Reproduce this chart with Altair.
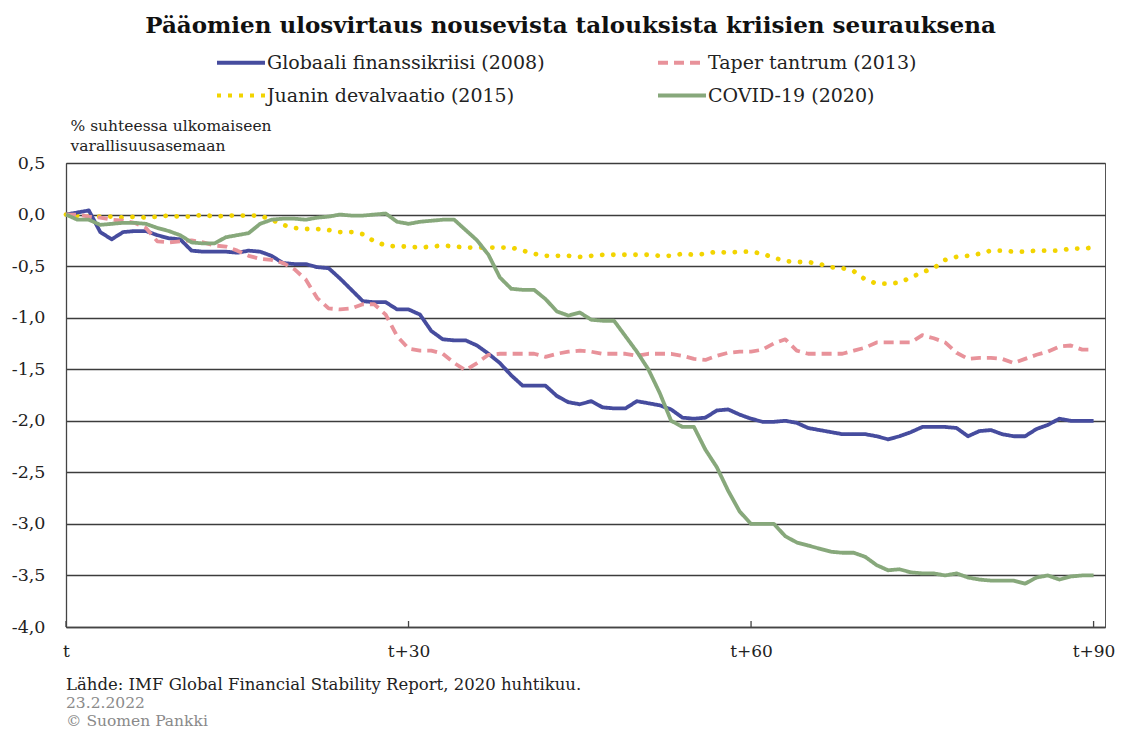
import altair as alt
import pandas as pd

days = list(range(91))
series = [
    "Globaali finanssikriisi (2008)",
    "Taper tantrum (2013)",
    "Juanin devalvaatio (2015)",
    "COVID-19 (2020)",
]
gfc = [0.00, 0.02, 0.04, -0.17, -0.24, -0.17, -0.16, -0.16, -0.20, -0.23,
       -0.24, -0.35, -0.36, -0.36, -0.36, -0.37, -0.35, -0.36, -0.40, -0.47,
       -0.48, -0.48, -0.51, -0.52, -0.62, -0.73, -0.84, -0.85, -0.85, -0.92,
       -0.92, -0.97, -1.13, -1.21, -1.22, -1.22, -1.27, -1.35, -1.44, -1.56,
       -1.66, -1.66, -1.66, -1.76, -1.82, -1.84, -1.81, -1.87, -1.88, -1.88,
       -1.81, -1.83, -1.85, -1.89, -1.97, -1.98, -1.97, -1.90, -1.89, -1.94,
       -1.98, -2.01, -2.01, -2.00, -2.02, -2.07, -2.09, -2.11, -2.13, -2.13,
       -2.13, -2.15, -2.18, -2.15, -2.11, -2.06, -2.06, -2.06, -2.07, -2.15,
       -2.10, -2.09, -2.13, -2.15, -2.15, -2.08, -2.04, -1.98, -2.00, -2.00,
       -2.00]
taper = [0.00, 0.00, -0.02, -0.03, -0.05, -0.06, -0.08, -0.13, -0.26, -0.27,
         -0.26, -0.25, -0.27, -0.30, -0.31, -0.35, -0.40, -0.43, -0.44, -0.47,
         -0.53, -0.63, -0.81, -0.91, -0.92, -0.91, -0.87, -0.87, -0.97, -1.18,
         -1.30, -1.32, -1.32, -1.35, -1.44, -1.51, -1.44, -1.36, -1.35, -1.35,
         -1.35, -1.35, -1.38, -1.35, -1.33, -1.32, -1.33, -1.35, -1.35, -1.35,
         -1.37, -1.35, -1.35, -1.35, -1.37, -1.40, -1.41, -1.37, -1.34, -1.33,
         -1.33, -1.31, -1.25, -1.21, -1.32, -1.35, -1.35, -1.35, -1.35, -1.32,
         -1.29, -1.24, -1.24, -1.24, -1.24, -1.17, -1.20, -1.24, -1.34, -1.40,
         -1.39, -1.39, -1.40, -1.44, -1.40, -1.36, -1.33, -1.28, -1.27, -1.31,
         -1.31]
juan = [0.00, -0.01, -0.02, -0.02, -0.02, -0.03, -0.02, -0.03, -0.02, -0.01,
        -0.02, -0.02, 0.00, -0.02, -0.01, -0.01, -0.01, -0.01, -0.05, -0.10,
        -0.13, -0.14, -0.14, -0.15, -0.17, -0.17, -0.19, -0.26, -0.30, -0.31,
        -0.31, -0.32, -0.31, -0.30, -0.31, -0.32, -0.32, -0.32, -0.32, -0.32,
        -0.35, -0.38, -0.40, -0.40, -0.40, -0.41, -0.40, -0.39, -0.39, -0.39,
        -0.39, -0.39, -0.40, -0.40, -0.38, -0.39, -0.38, -0.36, -0.37, -0.36,
        -0.36, -0.38, -0.42, -0.45, -0.46, -0.46, -0.48, -0.51, -0.52, -0.55,
        -0.63, -0.67, -0.67, -0.66, -0.61, -0.56, -0.52, -0.44, -0.41, -0.40,
        -0.38, -0.35, -0.35, -0.36, -0.36, -0.35, -0.35, -0.35, -0.33, -0.33,
        -0.32]
covid = [0.00, -0.05, -0.05, -0.10, -0.09, -0.08, -0.08, -0.09, -0.13, -0.16,
         -0.20, -0.27, -0.28, -0.28, -0.22, -0.20, -0.18, -0.09, -0.05, -0.04,
         -0.04, -0.05, -0.03, -0.02, 0.00, -0.01, -0.01, 0.00, 0.01, -0.07,
         -0.09, -0.07, -0.06, -0.05, -0.05, -0.15, -0.25, -0.39, -0.61, -0.72,
         -0.73, -0.73, -0.82, -0.94, -0.98, -0.95, -1.02, -1.03, -1.03, -1.18,
         -1.33, -1.50, -1.73, -2.00, -2.06, -2.06, -2.28, -2.45, -2.68, -2.88,
         -3.00, -3.00, -3.00, -3.12, -3.18, -3.21, -3.24, -3.27, -3.28, -3.28,
         -3.32, -3.40, -3.45, -3.44, -3.47, -3.48, -3.48, -3.50, -3.48, -3.52,
         -3.54, -3.55, -3.55, -3.55, -3.58, -3.52, -3.50, -3.54, -3.51, -3.50,
         -3.50]

colors = ["#464c9e", "#e8929a", "#f2d400", "#87a87b"]
dashes = [[1, 0], [10, 6], [4, 7], [1, 0]]
dotted_series = "Juanin devalvaatio (2015)"
x_ticks = [0, 30, 60, 90]
y_ticks = [0.5, 0.0, -0.5, -1.0, -1.5, -2.0, -2.5, -3.0, -3.5, -4.0]

title_text = "Pääomien ulosvirtaus nousevista talouksista kriisien seurauksena"
y_title = ["% suhteessa ulkomaiseen", "varallisuusasemaan"]
source_text = "Lähde: IMF Global Financial Stability Report, 2020 huhtikuu."
meta_text = "23.2.2022\n© Suomen Pankki"

rows = []
for name, vals in zip(series, [gfc, taper, juan, covid]):
    for d, v in zip(days, vals):
        rows.append({"day": d, "value": v, "series": name})
df = pd.DataFrame(rows)
df_main = df[df["series"] != dotted_series]
df_dot = df[df["series"] == dotted_series]

W, H = 1039, 464
FONT = "DejaVu Serif"

legend = alt.Legend(
    title=None, orient="none", legendX=149, legendY=-110, columns=2,
    direction="horizontal",
    columnPadding=105, rowPadding=13, symbolType="M-1,0H5.4", symbolSize=225,
    symbolStrokeWidth=4, labelOffset=33, labelFont=FONT, labelFontSize=19,
    labelColor="#222", labelLimit=450,
)

x_enc = alt.X("day:Q", scale=alt.Scale(domain=[0, 91], nice=False, zero=False),
              axis=alt.Axis(values=x_ticks, title=None, grid=False, ticks=False,
                            labelExpr="datum.value == 0 ? 't' : 't+' + datum.value",
                            labelPadding=16, labelFont=FONT, labelFontSize=17,
                            labelColor="#222", labelFlush=False,
                            domainColor="#444", domainWidth=1.3))
y_enc = alt.Y("value:Q", scale=alt.Scale(domain=[-4, 0.5], nice=False, zero=False),
              axis=alt.Axis(values=y_ticks, grid=True, gridColor="#3c3c3c", gridWidth=1.3,
                            ticks=False, labelPadding=21, labelFont=FONT, labelFontSize=17.5,
                            labelColor="#222",
                            labelExpr="(datum.value < 0 ? '-' : '') + replace(format(abs(datum.value), '.1f'), '.', ',')",
                            domainColor="#444", domainWidth=1.3,
                            title=y_title, titleAngle=0, titleAlign="left", titleBaseline="top",
                            titleX=4, titleY=-45, titleFont=FONT, titleFontSize=15.5,
                            titleFontWeight="normal", titleLineHeight=20, titleColor="#222"))

lines = alt.Chart(df_main).mark_line(strokeWidth=3.8, strokeJoin="round").encode(
    x=x_enc,
    y=y_enc,
    color=alt.Color("series:N", scale=alt.Scale(domain=series, range=colors), legend=legend),
    strokeDash=alt.StrokeDash("series:N", scale=alt.Scale(domain=series, range=dashes), legend=legend),
)

dots = alt.Chart(df_dot).mark_line(
    strokeWidth=4.8, strokeCap="round", strokeDash=[0.1, 11], color=colors[2]
).encode(x="day:Q", y="value:Q")

ticks = alt.Chart(pd.DataFrame({"day": x_ticks})).mark_rule(color="#444", strokeWidth=1.3).encode(
    x="day:Q", y=alt.value(H - 6), y2=alt.value(H)
)

source = alt.Chart(pd.DataFrame({"t": [source_text]})).mark_text(
    align="left", baseline="middle", font=FONT, fontSize=16.5, color="#222"
).encode(x=alt.value(0), y=alt.value(522), text="t:N")

meta = alt.Chart(pd.DataFrame({"t": [meta_text]})).mark_text(
    align="left", baseline="middle", font=FONT, fontSize=15.5, color="#8a8a8a",
    lineBreak="\n", lineHeight=18
).encode(x=alt.value(0), y=alt.value(540), text="t:N")

chart = alt.layer(dots, lines, ticks, source, meta).properties(
    width=W, height=H,
    title=alt.TitleParams(title_text, font=FONT, fontSize=23, fontWeight="bold",
                          color="#111", anchor="middle", offset=12, dx=-15, dy=-3),
    padding={"left": 58, "top": 155, "right": 11, "bottom": 103},
    autosize=alt.AutoSizeParams(type="none"),
).configure_view(stroke="#555", strokeWidth=1)

chart.save("out.html", embed_options={"renderer": "svg", "actions": False})
